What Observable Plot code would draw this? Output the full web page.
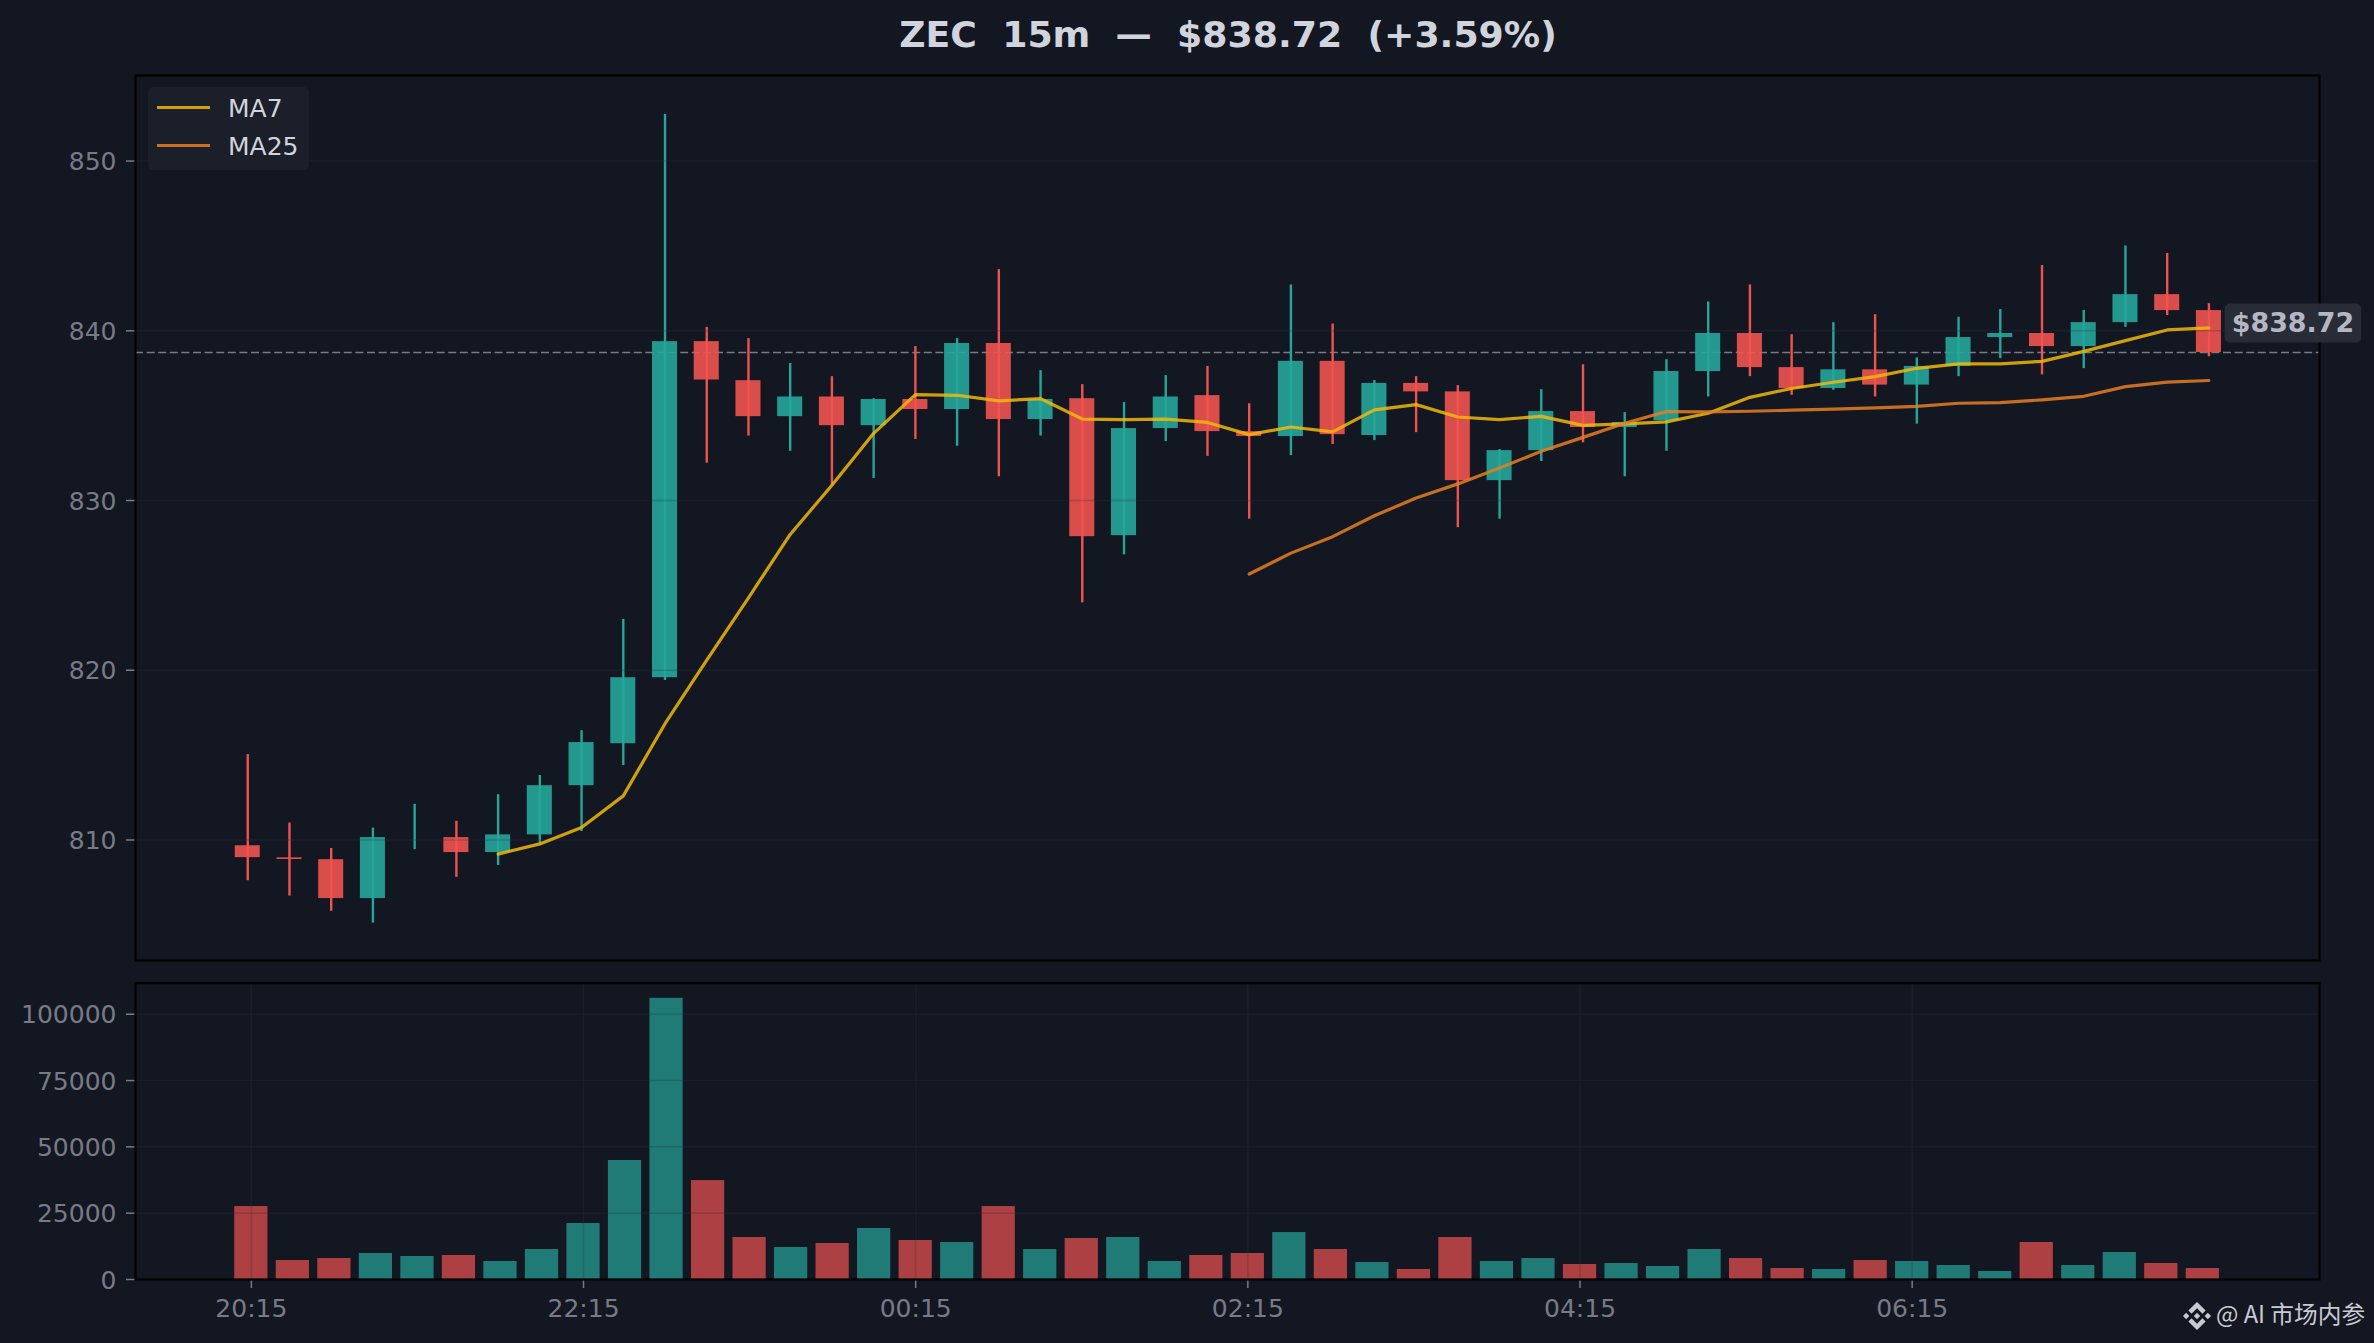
<!DOCTYPE html>
<html>
<head>
<meta charset="utf-8">
<script src="https://cdn.jsdelivr.net/npm/d3@7"></script>
<script src="https://cdn.jsdelivr.net/npm/@observablehq/plot@0.6"></script>
<style>
  html,body{margin:0;padding:0;background:#131722;}
  #page{position:relative;width:2374px;height:1343px;overflow:hidden;background:#131722;font-family:"DejaVu Sans",sans-serif;}
  #title{position:absolute;left:136px;width:2184px;top:12px;text-align:center;white-space:pre;font-weight:bold;font-size:36.25px;line-height:46px;color:#d1d4dc;}
  #price,#volume{position:absolute;left:0;}
  #price{top:55px;} #volume{top:970px;}
  #legend{position:absolute;left:148px;top:87px;width:161px;height:83px;background:#1b1f29;border-radius:5px;color:#d1d4dc;font-size:25px;}
  .li{position:absolute;left:80px;line-height:28px;white-space:pre;}
  .sw{position:absolute;left:9px;width:53px;height:3px;}
  #mark{position:absolute;left:2183px;top:1302px;width:28px;height:28px;}
  #mark svg{display:block;width:28px;height:28px;}
  #wm{position:absolute;left:2216px;top:1297px;font-size:23.7px;line-height:32px;white-space:pre;color:#c8cad2;font-family:"Noto Sans CJK SC","DejaVu Sans",sans-serif;}
</style>
</head>
<body>
<div id="page">
  <div id="title"></div>
  <div id="price"></div>
  <div id="volume"></div>
  <div id="legend"></div>
  <div id="mark"><svg viewBox="0 0 126.61 126.61"><path fill="#c8cad2" d="M38.73 53.2l24.59-24.58 24.6 24.6 14.3-14.31L63.32 0 24.42 38.9zM0 63.31l14.3-14.31 14.31 14.31-14.31 14.3zM38.73 73.41l24.59 24.59 24.6-24.6 14.31 14.29-38.9 38.91-38.91-38.88-.02-.02zM98 63.31l14.3-14.31 14.31 14.3-14.31 14.32zM77.83 63.3L63.32 48.78 52.59 59.51l-1.24 1.23-2.54 2.54 14.51 14.5 14.51-14.47z"/></svg></div>
  <div id="wm"></div>
</div>
<script>
const titleText = "ZEC  15m  —  $838.72  (+3.59%)";
const lastPrice = 838.72;
const priceLabel = "$838.72";
const watermark = "@ AI 市场内参";

const opens  = [809.66,808.95,808.84,806.55,810.5,810.14,809.26,810.3,813.2,815.67,819.56,839.36,837.06,834.94,836.1,834.41,835.95,835.36,839.25,834.77,836,827.93,834.24,836.18,834.06,833.77,838.2,833.83,836.9,836.4,831.17,832.94,835.24,834.3,834.7,837.6,839.84,837.83,836.6,837.7,836.8,837.9,839.6,839.84,839.07,840.48,842.13,841.19];
const closes = [808.96,808.85,806.55,810.14,810.5,809.26,810.3,813.2,815.74,819.56,839.36,837.1,834.94,836.1,834.41,835.95,835.36,839.25,834.77,835.95,827.87,834.24,836.1,834.06,833.77,838.2,833.88,836.9,836.4,831.17,832.94,835.24,834.3,834.6,837.6,839.84,837.83,836.6,837.7,836.8,837.9,839.6,839.84,839.07,840.48,842.13,841.19,838.72];
const highs  = [815.03,811,809.5,810.7,812.1,811.1,812.67,813.8,816.44,823,852.74,840.2,839.54,838.07,837.3,836,839.07,839.54,843.6,837.65,836.83,835.77,837.36,837.9,835.7,842.7,840.4,837.07,837.3,836.77,833,836.53,838,835.18,838.3,841.7,842.7,839.77,840.48,840.95,838.4,840.8,841.25,843.84,841.2,845,844.55,841.6];
const lows   = [807.6,806.7,805.8,805.1,809.43,807.8,808.5,809.8,810.5,814.38,819.4,832.2,833.8,832.9,830.9,831.3,833.6,833.2,831.4,833.8,823.97,826.8,833.47,832.6,828.9,832.65,833.3,833.53,834,828.4,828.9,832.3,833.4,831.4,832.9,836.1,837.3,836.2,836.5,836.1,834.5,837.3,838.36,837.4,837.77,840.2,840.9,838.47];
const volumes = [27500,7160,7900,9800,8670,9050,6785,11300,21100,44850,106000,37300,15830,12060,13570,19220,14700,13950,27500,11300,15450,15830,6785,9050,9800,17700,11300,6400,3770,15830,6785,7900,5650,6030,4900,11300,7900,4150,3770,7160,6785,5280,3015,13950,5280,10180,6030,4150];
const ma7 = [null,null,null,null,null,null,809.17,809.77,810.74,812.6,816.85,820.6,824.27,828.0,830.9,833.96,836.24,836.2,835.87,836,834.8,834.77,834.8,834.6,833.88,834.33,834.04,835.34,835.65,834.92,834.77,834.96,834.43,834.51,834.63,835.14,836.08,836.6,836.97,837.3,837.79,838.05,838.05,838.2,838.79,839.42,840.05,840.17];
const ma25 = [null,null,null,null,null,null,null,null,null,null,null,null,null,null,null,null,null,null,null,null,null,null,null,null,825.67,826.9,827.87,829.1,830.15,830.98,831.92,832.9,833.72,834.55,835.24,835.22,835.26,835.32,835.38,835.46,835.55,835.73,835.77,835.93,836.14,836.71,836.97,837.07];
const timeTicks = [0,8,16,24,32,40];
const timeLabels = ["20:15","22:15","00:15","02:15","04:15","06:15"];
const priceTicks = [810,820,830,840,850];
const volumeTicks = [0,25000,50000,75000,100000];
const legendNames = ["MA7","MA25"];

const UP = "#26a69a", DOWN = "#ef5350", GRID = "#1e222d", AXIS = "#787b86", FRAME = "#000000";
const MA7C = "#f0b90b", MA25C = "#e67e22";
const priceDomain = [-2.69, 49.65];
const volumeDomain = [-2.79, 49.81];
const candles = opens.map((o,i)=>({i,o,c:closes[i],h:highs[i],l:lows[i],v:volumes[i],m7:ma7[i],m25:ma25[i],color:closes[i]>=o?UP:DOWN}));
const font = {fontFamily:'"DejaVu Sans",sans-serif',background:"transparent",overflow:"visible"};

document.getElementById("title").textContent = titleText;
document.getElementById("wm").textContent = watermark;
const lg = document.getElementById("legend");
[[legendNames[0],MA7C,20,7.5],[legendNames[1],MA25C,58,45.5]].forEach(([n,c,sy,ty])=>{
  const s=document.createElement("div");s.className="sw";s.style.top=(sy-1.5)+"px";s.style.background=c;s.style.opacity=.85;lg.appendChild(s);
  const t=document.createElement("div");t.className="li";t.style.top=ty+"px";t.textContent=n;lg.appendChild(t);
});

const labelFont = 'bold 26.9px "DejaVu Sans"';
function labelBox(index,scales,values,dims,ctx,next){
  const g = next(index,scales,values,dims,ctx);
  const c = document.createElement("canvas").getContext("2d"); c.font = labelFont;
  const w = c.measureText(priceLabel).width;
  const r = document.createElementNS("http://www.w3.org/2000/svg","rect");
  r.setAttribute("x",values.x[0]-7); r.setAttribute("y",values.y[0]-19.5);
  r.setAttribute("width",w+14); r.setAttribute("height",39); r.setAttribute("rx",5);
  r.setAttribute("fill","#2a2e39"); r.setAttribute("fill-opacity",.93);
  g.insertBefore(r,g.firstChild);
  return g;
}
const gridUnder = {stroke:GRID,strokeOpacity:.7,strokeWidth:1.5};
const gridOver  = {stroke:GRID,strokeOpacity:.22,strokeWidth:1.5};

const price = Plot.plot({
  width:2374, height:915, marginLeft:135, marginRight:55, marginTop:20, marginBottom:10,
  style:font,
  x:{domain:priceDomain, axis:null},
  y:{domain:[802.9,855.04]},
  marks:[
    Plot.gridY(priceTicks,gridUnder),
    Plot.ruleY([lastPrice],{stroke:AXIS,strokeWidth:1.5,strokeDasharray:"8,3.6"}),
    Plot.ruleX(candles,{x:"i",y1:"l",y2:"h",stroke:"color",strokeWidth:2.4}),
    Plot.rect(candles,{x1:d=>d.i-.3,x2:d=>d.i+.3,y1:"o",y2:"c",fill:"color",fillOpacity:.9}),
    Plot.gridY(priceTicks,gridOver),
    Plot.line(candles.filter(d=>d.m7!=null),{x:"i",y:"m7",stroke:MA7C,strokeOpacity:.85,strokeWidth:3.2}),
    Plot.line(candles.filter(d=>d.m25!=null),{x:"i",y:"m25",stroke:MA25C,strokeOpacity:.85,strokeWidth:3.2}),
    Plot.axisY({ticks:priceTicks,tickSize:9,text:null,stroke:AXIS,label:null,strokeWidth:1.5}),
    Plot.axisY({ticks:priceTicks,tickSize:0,tickPadding:19,dy:1,fontSize:25,fill:AXIS,label:null}),
    Plot.frame({stroke:FRAME,strokeWidth:2.2}),
    Plot.text([{x:47,y:lastPrice}],{x:"x",y:"y",text:()=>priceLabel,dx:22.8,dy:-29.5,textAnchor:"start",fill:"#b4b7c3",fontWeight:"bold",fontSize:26.9,render:labelBox})
  ]
});
document.getElementById("price").appendChild(price);

const volume = Plot.plot({
  width:2374, height:373, marginLeft:135, marginRight:55, marginTop:12.7, marginBottom:64,
  style:font,
  x:{domain:volumeDomain, axis:null},
  y:{domain:[0,111700], axis:null},
  marks:[
    Plot.gridY(volumeTicks,gridUnder),
    Plot.gridX(timeTicks,gridUnder),
    Plot.rect(candles,{x1:d=>d.i-.4,x2:d=>d.i+.4,y1:0,y2:"v",fill:"color",fillOpacity:.7}),
    Plot.gridY(volumeTicks,gridOver),
    Plot.gridX(timeTicks,gridOver),
    Plot.axisY({ticks:volumeTicks,tickSize:9,text:null,stroke:AXIS,label:null,strokeWidth:1.5}),
    Plot.axisY({ticks:volumeTicks,tickSize:0,tickPadding:19,dy:1,fontSize:25,fill:AXIS,label:null,tickFormat:d=>String(d)}),
    Plot.axisX({ticks:timeTicks,tickSize:9,tickPadding:11,fontSize:25,stroke:AXIS,fill:AXIS,label:null,strokeWidth:1.5,tickFormat:d=>timeLabels[timeTicks.indexOf(d)]}),
    Plot.frame({stroke:FRAME,strokeWidth:2.2})
  ]
});
document.getElementById("volume").appendChild(volume);
</script>
</body>
</html>
